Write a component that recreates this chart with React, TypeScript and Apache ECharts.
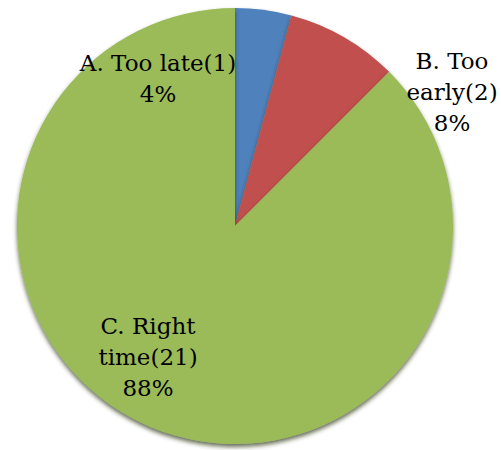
import React, { useEffect, useRef } from "react";
import * as echarts from "echarts";

const categories = ["A. Too late", "B. Too early", "C. Right time"];
const counts = [1, 2, 21];
const percents = ["4%", "8%", "88%"];
const labelTexts = ["A. Too late(1)\n4%", "B. Too\nearly(2)\n8%", "C. Right\ntime(21)\n88%"];
const colors = ["#4F81BD", "#C0504D", "#9BBB59"];
const labelPos = [
  [158, 78],
  [452, 92],
  [148, 357],
];

const FONT = "'DejaVu Serif', 'DejaVu Sans', serif";

export default function App() {
  const ref = useRef<HTMLDivElement>(null);
  useEffect(() => {
    document.body.style.margin = "0";
    const chart = echarts.init(ref.current!, null, { renderer: "svg" });
    chart.setOption({
      animation: false,
      backgroundColor: "#ffffff",
      textStyle: { fontFamily: FONT },
      series: [
        {
          type: "pie",
          center: [235, 226],
          radius: [0, 218],
          startAngle: 90,
          clockwise: true,
          data: categories.map((c, i) => ({
            name: c,
            value: counts[i],
            itemStyle: { color: colors[i] },
            label: { formatter: labelTexts[i] },
          })),
          itemStyle: {
            shadowBlur: 4,
            shadowOffsetY: 3,
            shadowColor: "rgba(40,50,10,0.7)",
          },
          label: {
            show: true,
            position: "inside",
            color: "#000",
            fontFamily: FONT,
            fontSize: 23,
            lineHeight: 31,
            align: "center",
          },
          labelLine: { show: false },
          labelLayout: (params: any) => {
            const p = labelPos[params.dataIndex];
            return { x: p[0], y: p[1], align: "center", verticalAlign: "middle" };
          },
          emphasis: { disabled: true },
        },
      ],
    });
    return () => chart.dispose();
  }, []);
  return <div ref={ref} style={{ position: "absolute", left: 0, top: 0, width: 501, height: 450 }} />;
}
